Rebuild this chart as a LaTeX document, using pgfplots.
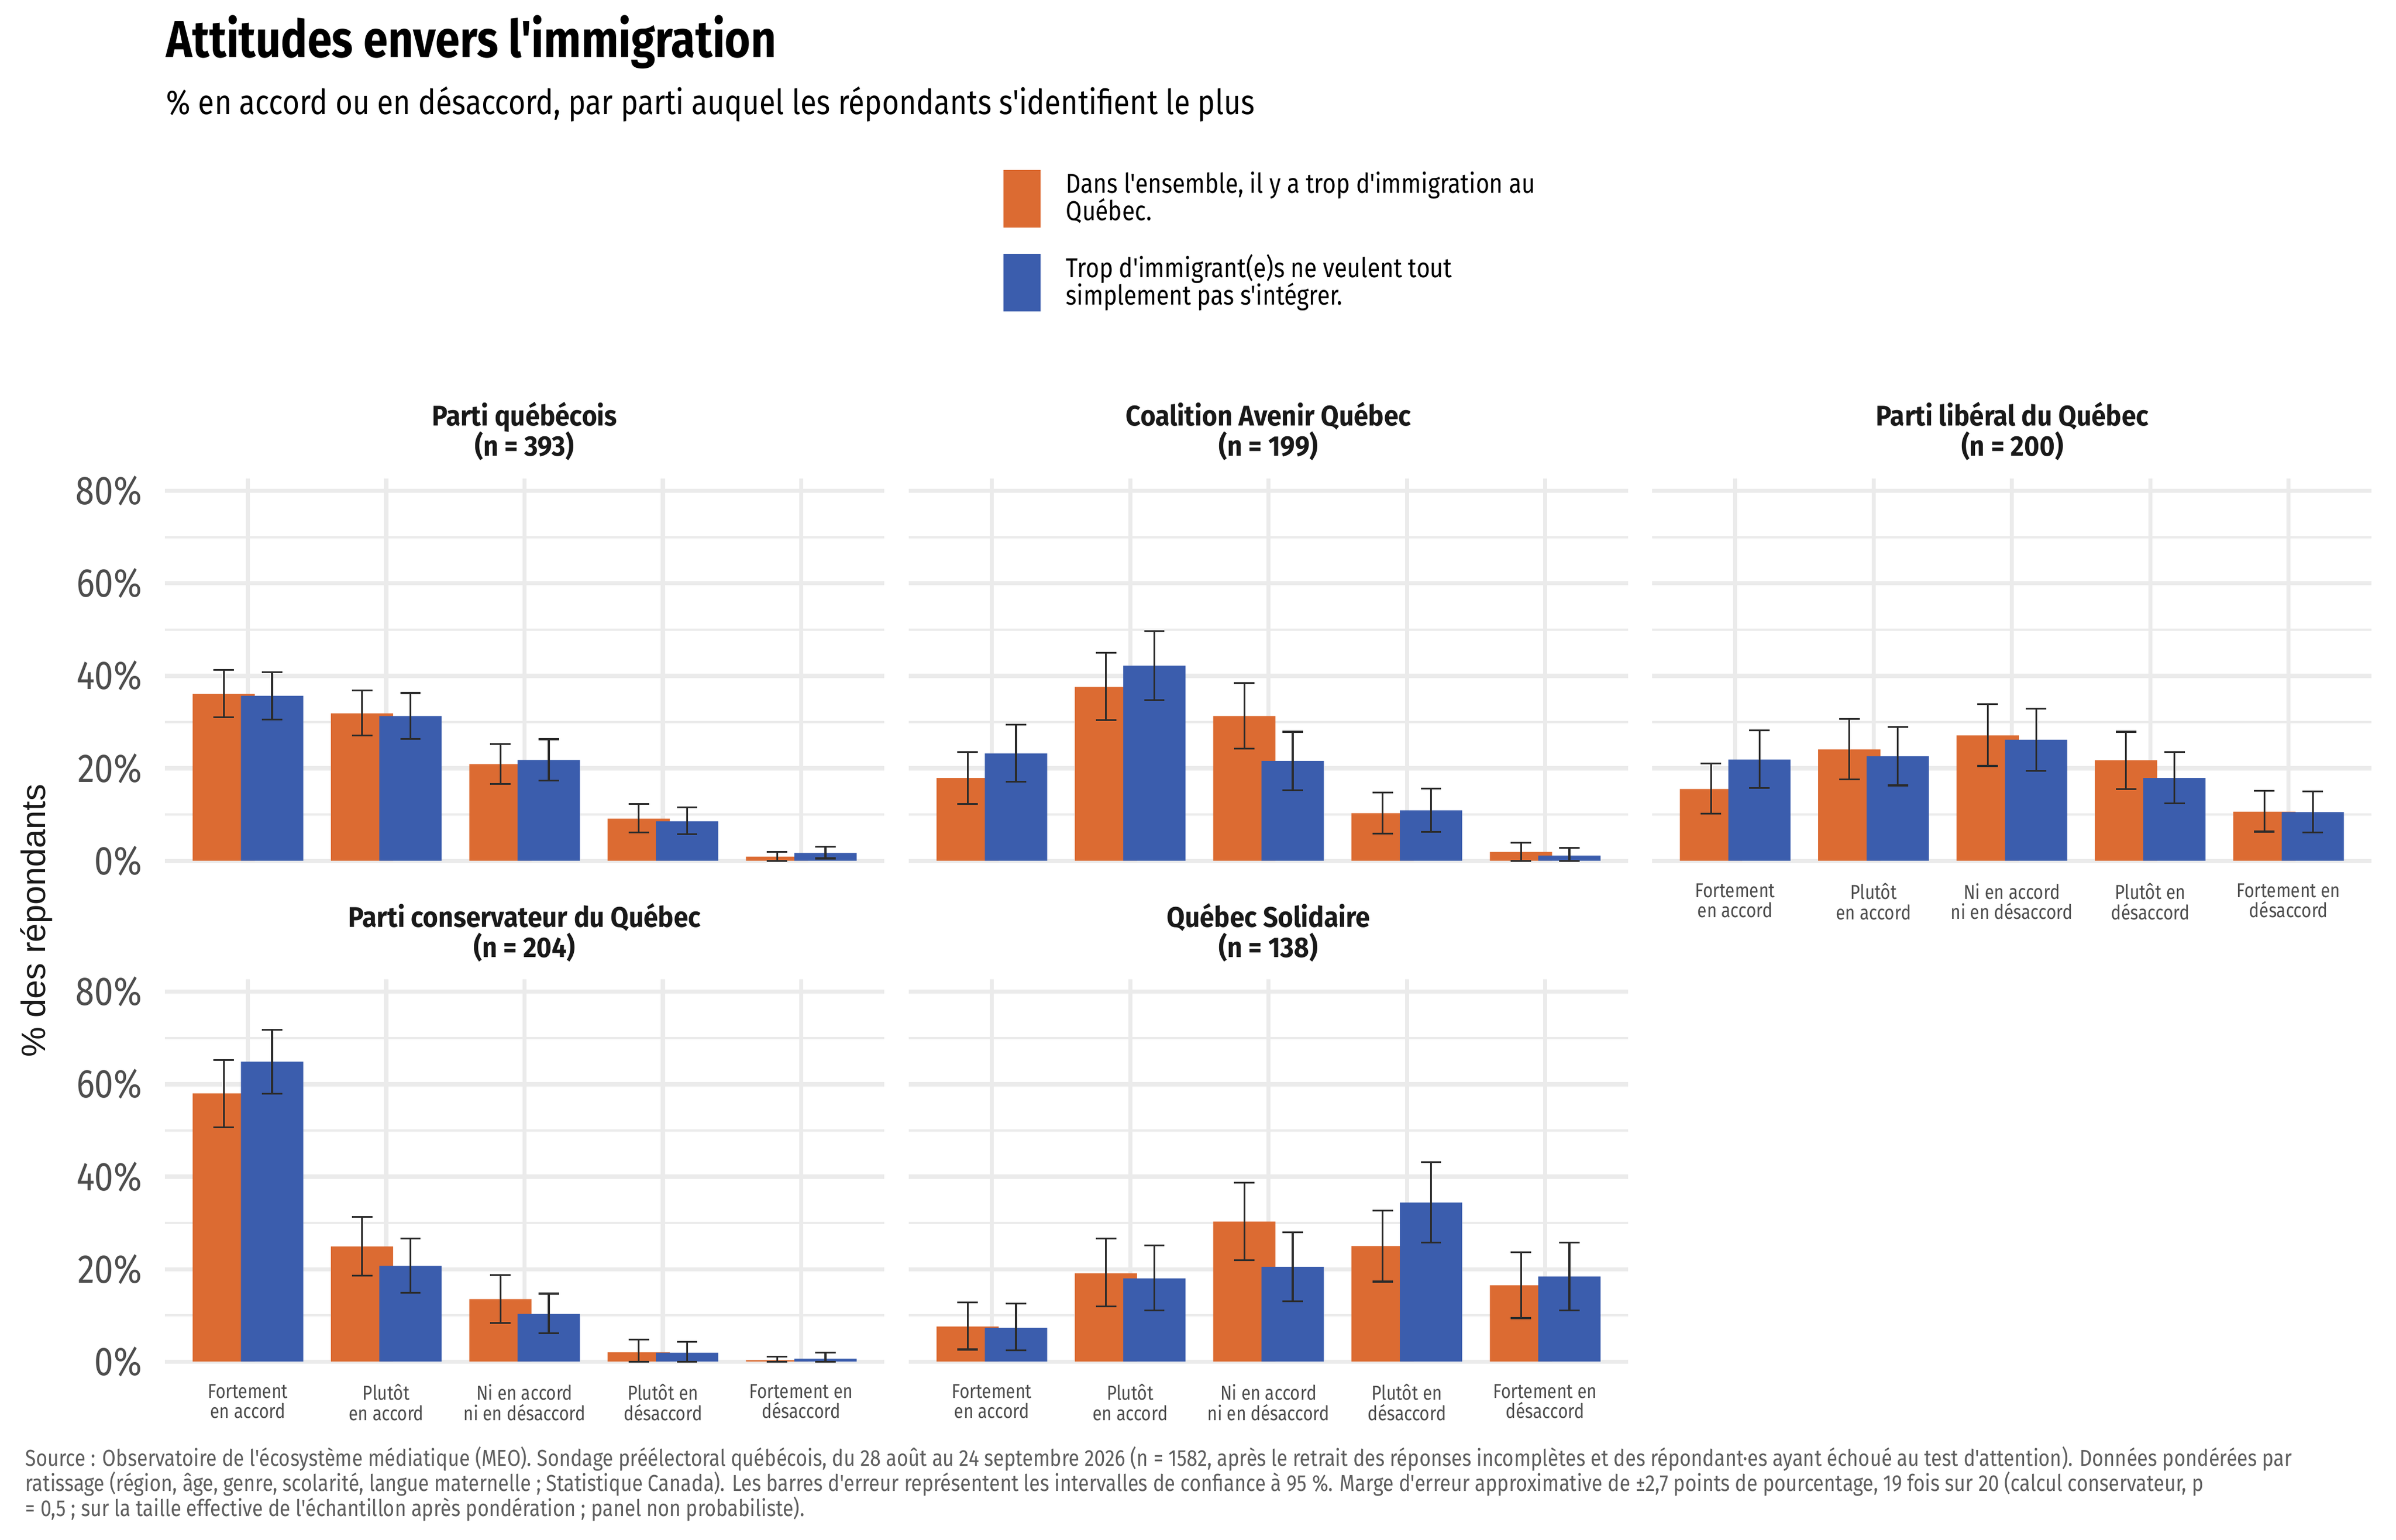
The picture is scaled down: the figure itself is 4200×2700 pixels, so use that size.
\documentclass[border=0pt]{standalone}
\usepackage{fontspec}
\setmainfont{Fira Sans}[FakeStretch=0.85, Ligatures=TeXOff]
\newfontfamily\ptfont{Fira Sans}[FakeStretch=0.92, Ligatures=TeXOff]
\newfontfamily\ylabfont{Liberation Sans}[Ligatures=TeXOff]
\usepackage{pgfplots}
\usepackage{pgfplotstable}
\pgfplotsset{compat=1.18}

\definecolor{cOr}{HTML}{DC6B32}
\definecolor{cBl}{HTML}{3B5DAD}
\definecolor{gridc}{HTML}{EBEBEB}
\definecolor{tickc}{HTML}{4D4D4D}
\definecolor{errc}{HTML}{2B2B2B}
\definecolor{capc}{HTML}{5E5E5E}

% columns: x  y  lo  hi
\pgfplotstableread{
x y lo hi
0 36.1 31.1 41.3
1 31.9 27.1 36.9
2 20.9 16.6 25.3
3 9.1 6.1 12.3
4 0.9 0.0 1.9
}\pqO
\pgfplotstableread{
x y lo hi
0 35.7 30.6 40.8
1 31.3 26.4 36.3
2 21.8 17.4 26.3
3 8.5 5.7 11.5
4 1.7 0.5 3.0
}\pqB
\pgfplotstableread{
x y lo hi
0 17.9 12.3 23.5
1 37.6 30.4 45.0
2 31.3 24.3 38.4
3 10.3 5.9 14.8
4 1.9 0.0 3.9
}\caqO
\pgfplotstableread{
x y lo hi
0 23.2 17.1 29.4
1 42.2 34.8 49.7
2 21.6 15.3 27.9
3 10.9 6.2 15.6
4 1.1 0.0 2.8
}\caqB
\pgfplotstableread{
x y lo hi
0 15.5 10.2 21.0
1 24.1 17.6 30.7
2 27.1 20.5 33.9
3 21.7 15.5 27.9
4 10.6 6.3 15.1
}\plqO
\pgfplotstableread{
x y lo hi
0 21.9 15.7 28.2
1 22.6 16.3 29.0
2 26.2 19.5 32.9
3 17.9 12.4 23.5
4 10.5 6.1 15.0
}\plqB
\pgfplotstableread{
x y lo hi
0 58.0 50.7 65.2
1 24.9 18.6 31.3
2 13.5 8.3 18.7
3 2.0 0.0 4.8
4 0.3 0.0 1.1
}\pcqO
\pgfplotstableread{
x y lo hi
0 64.9 58.0 71.8
1 20.7 14.9 26.6
2 10.3 6.1 14.7
3 1.9 0.0 4.3
4 0.6 0.0 1.9
}\pcqB
\pgfplotstableread{
x y lo hi
0 7.6 2.6 12.8
1 19.1 11.9 26.6
2 30.3 21.9 38.7
3 25.0 17.3 32.7
4 16.5 9.4 23.7
}\qsO
\pgfplotstableread{
x y lo hi
0 7.3 2.4 12.5
1 18.0 11.1 25.1
2 20.5 13.0 28.0
3 34.4 25.7 43.1
4 18.4 11.1 25.7
}\qsB

\pgfplotsset{
  panel/.style={
    scale only axis, width=302.64bp, height=161.52bp,
    anchor=south west,
    xmin=-0.6, xmax=4.6, ymin=-0.37, ymax=82.7,
    axis line style={draw=none},
    major tick length=0pt, minor tick length=0pt,
    tick style={draw=none},
    xtick={0,1,2,3,4},
    ytick={0,20,40,60,80},
    minor ytick={10,30,50,70},
    xmajorgrids, ymajorgrids, yminorgrids,
    major grid style={draw=gridc, line width=1.7bp},
    minor grid style={draw=gridc, line width=0.85bp},
    xticklabels={},
    yticklabels={},
    ybar, bar shift=0pt, bar width=0.45,
    xticklabel style={font=\fontsize{8.5}{8.6}\selectfont, align=center, text=tickc, anchor=north, inner sep=0pt, yshift=-8.6bp},
    yticklabel style={font=\fontsize{17}{18}\selectfont, text=tickc, anchor=east, inner sep=0pt, xshift=-9.4bp},
    clip=false,
  },
  withx/.style={xticklabels={{Fortement\\en accord},{Plutôt\\en accord},{Ni en accord\\ni en désaccord},{Plutôt en\\désaccord},{Fortement en\\désaccord}}},
  withy/.style={yticklabels={0\%,20\%,40\%,60\%,80\%}},
  errs/.style={error bars/.cd, y dir=both, y explicit,
    error bar style={draw=errc, line width=0.75bp},
    error mark options={rotate=90, draw=errc, line width=0.75bp, mark size=4.3bp}},
  barO/.style={fill=cOr, draw=none, errs},
  barB/.style={fill=cBl, draw=none, errs},
}

\newcommand{\bars}[2]{%
  \addplot[barO] table[x expr=\thisrow{x}-0.175, y=y,
     y error plus expr=\thisrow{hi}-\thisrow{y},
     y error minus expr=\thisrow{y}-\thisrow{lo}] {#1};
  \addplot[barB] table[x expr=\thisrow{x}+0.175, y=y,
     y error plus expr=\thisrow{hi}-\thisrow{y},
     y error minus expr=\thisrow{y}-\thisrow{lo}] {#2};
}

\begin{document}
\begin{tikzpicture}
\begin{scope}[x=0.24bp,y=-0.24bp]
\path[use as bounding box] (0,0) rectangle (4200,2700);
\end{scope}

% Row 1
\begin{axis}[panel, withy, at={(69.36bp,-362.88bp)}]
\bars{\pqO}{\pqB}
\end{axis}
\begin{axis}[panel, at={(382.32bp,-362.88bp)}]
\bars{\caqO}{\caqB}
\end{axis}
\begin{axis}[panel, withx, at={(695.04bp,-362.88bp)}]
\bars{\plqO}{\plqB}
\end{axis}
% Row 2
\begin{axis}[panel, withx, withy, at={(69.36bp,-573.6bp)}]
\bars{\pcqO}{\pcqB}
\end{axis}
\begin{axis}[panel, withx, at={(382.32bp,-573.6bp)}]
\bars{\qsO}{\qsB}
\end{axis}

\begin{scope}[x=0.24bp,y=-0.24bp]
% title
\node[anchor=base west, inner sep=0pt] at (291,101) {\fontsize{21.9}{24}\selectfont\bfseries Attitudes envers l'immigration};
\node[anchor=base west, inner sep=0pt] at (291,201) {\fontsize{14.6}{18}\selectfont \% en accord ou en désaccord, par parti auquel les répondants s'identifient le plus};
% legend
\fill[cOr] (1759,298) rectangle (1824,399);
\fill[cBl] (1759,445) rectangle (1824,546);
\node[anchor=base west, inner sep=0pt] at (1868,339) {\fontsize{11.55}{13}\selectfont Dans l'ensemble, il y a trop d'immigration au};
\node[anchor=base west, inner sep=0pt] at (1868,387) {\fontsize{11.55}{13}\selectfont Québec.};
\node[anchor=base west, inner sep=0pt] at (1868,487) {\fontsize{11.55}{13}\selectfont Trop d'immigrant(e)s ne veulent tout};
\node[anchor=base west, inner sep=0pt] at (1868,535) {\fontsize{11.55}{13}\selectfont simplement pas s'intégrer.};
% panel titles
\foreach \cx/\ya/\yb/\ta/\tb in {919.5/747/800/Parti québécois/(n = 393),
  2223.5/747/800/Coalition Avenir Québec/(n = 199),
  3527.5/747/800/Parti libéral du Québec/(n = 200),
  919.5/1625/1678/Parti conservateur du Québec/(n = 204),
  2223.5/1625/1678/Québec Solidaire/(n = 138)} {
  \node[anchor=base, inner sep=0pt, text=black!90] at (\cx,\ya) {\ptfont\fontsize{12}{13}\selectfont\bfseries \ta};
  \node[anchor=base, inner sep=0pt, text=black!90] at (\cx,\yb) {\ptfont\fontsize{12}{13}\selectfont\bfseries \tb};
}
% y label
\node[rotate=90, anchor=center, inner sep=0pt, text=black!90] at (64,1614) {\ylabfont\fontsize{14.3}{16}\selectfont \% des répondants};
% caption
\node[anchor=base west, inner sep=0pt, text=capc] at (44,2570) {\fontsize{9.75}{11}\selectfont Source : Observatoire de l'écosystème médiatique (MEO). Sondage préélectoral québécois, du 28 août au 24 septembre 2026 (n = 1582, après le retrait des réponses incomplètes et des répondant·es ayant échoué au test d'attention). Données pondérées par};
\node[anchor=base west, inner sep=0pt, text=capc] at (44,2614) {\fontsize{9.75}{11}\selectfont ratissage (région, âge, genre, scolarité, langue maternelle ; Statistique Canada). Les barres d'erreur représentent les intervalles de confiance à 95 \%. Marge d'erreur approximative de ±2,7 points de pourcentage, 19 fois sur 20 (calcul conservateur, p};
\node[anchor=base west, inner sep=0pt, text=capc] at (44,2658) {\fontsize{9.75}{11}\selectfont = 0,5 ; sur la taille effective de l'échantillon après pondération ; panel non probabiliste).};
\end{scope}
\end{tikzpicture}
\end{document}
